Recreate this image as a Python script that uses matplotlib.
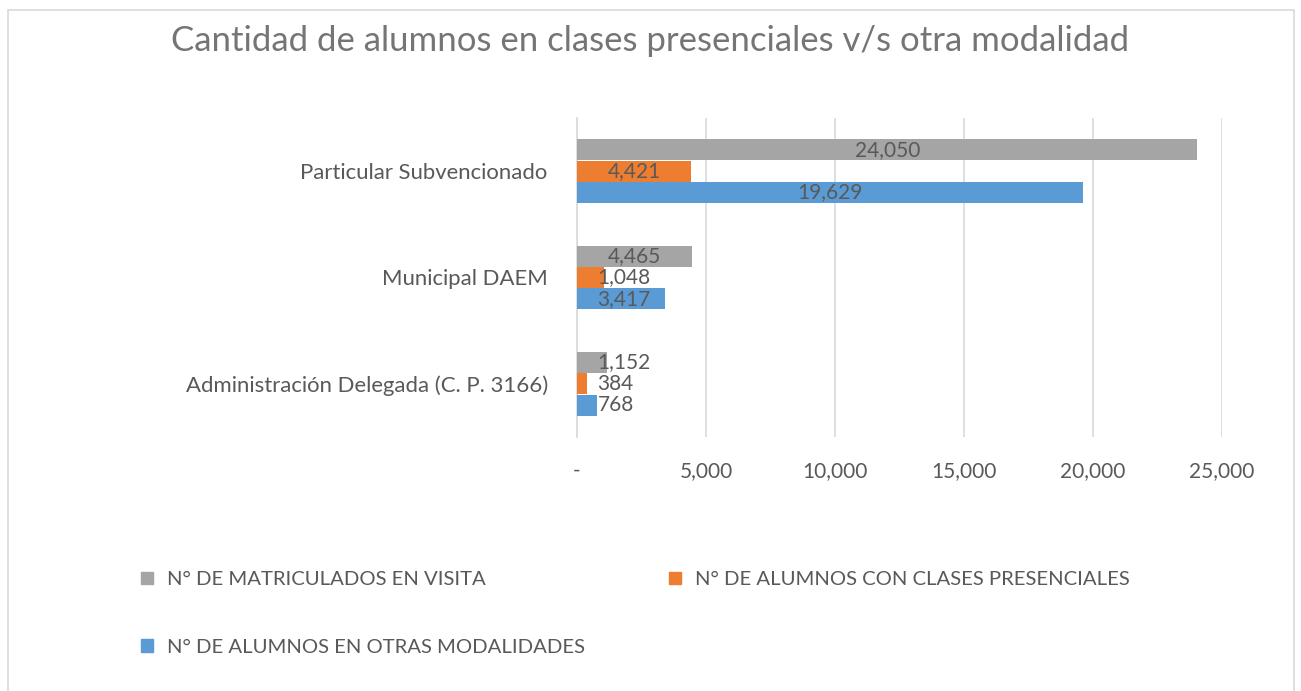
import matplotlib
matplotlib.use("Agg")
import matplotlib.pyplot as plt
from matplotlib.patches import Rectangle, Patch
from matplotlib.ticker import FuncFormatter

plt.rcParams['font.family'] = ['Lato', 'DejaVu Sans']

categories = ["Administración Delegada (C. P. 3166)", "Municipal DAEM", "Particular Subvencionado"]
series_names = ["N° DE MATRICULADOS EN VISITA", "N° DE ALUMNOS CON CLASES PRESENCIALES", "N° DE ALUMNOS EN OTRAS MODALIDADES"]
matriculados = [1152, 4465, 24050]
presenciales = [384, 1048, 4421]
otras = [768, 3417, 19629]
x_ticks = [0, 5000, 10000, 15000, 20000, 25000]
title = "Cantidad de alumnos en clases presenciales v/s otra modalidad"

colors = ["#A5A5A5", "#ED7D31", "#5B9BD5"]
text_color = "#595959"
fs = 15

W, H = 1301, 691
fig = plt.figure(figsize=(W / 100, H / 100), dpi=100)
fig.patch.set_facecolor("white")

# chart border
fig.add_artist(Rectangle((8 / W, -0.05), (1294 - 8) / W, 1.05 - 10 / H,
                         transform=fig.transFigure, fill=False,
                         edgecolor="#D9D9D9", linewidth=1.2))

ax = fig.add_axes([577 / W, 1 - 437 / H, (1222 - 577) / W, (437 - 118) / H])

ypos = list(range(len(categories)))
bh = 0.2
offsets = [bh, 0, -bh]
all_series = [matriculados, presenciales, otras]
for s, vals, off, col in zip(series_names, all_series, offsets, colors):
    ax.barh([y + off for y in ypos], vals, height=bh * 0.98, color=col, label=s, zorder=3)
    for y, v in zip(ypos, vals):
        lab = f"{v:,}"
        if v < 4000:
            ax.text(800, y + off, lab, ha="left", va="center", fontsize=fs,
                    color=text_color, zorder=4)
        else:
            ax.text(v / 2, y + off, lab, ha="center", va="center", fontsize=fs,
                    color=text_color, zorder=4)

ax.set_xlim(0, 25000)
ax.set_ylim(-0.5, 2.5)
ax.set_xticks(x_ticks)
ax.xaxis.set_major_formatter(FuncFormatter(lambda v, p: "-" if v == 0 else f"{int(v):,}"))
ax.set_yticks(ypos)
ax.set_yticklabels(categories)
ax.tick_params(axis="both", length=0, labelsize=fs, colors=text_color)
ax.tick_params(axis="y", labelsize=15.9, pad=21)
ax.tick_params(axis="x", pad=17)
ax.grid(axis="x", color="#D9D9D9", linewidth=1.2, zorder=0)
for sp in ["top", "right", "bottom"]:
    ax.spines[sp].set_visible(False)
ax.spines["left"].set_color("#D9D9D9")
ax.spines["left"].set_linewidth(1.2)

fig.text(650 / W, 1 - 41 / H, title, ha="center", va="center", fontsize=25, color="#757575")

handles = [Patch(color=colors[0]), Patch(color=colors[2]), Patch(color=colors[1])]
labels = [series_names[0], series_names[2], series_names[1]]
leg = fig.legend(handles, labels, ncol=2, loc="upper left",
                 bbox_to_anchor=(133 / W, 1 - 563 / H), frameon=False,
                 fontsize=14.6, handlelength=0.6, handleheight=0.6, handletextpad=0.7,
                 columnspacing=4.1, labelspacing=2.5, borderaxespad=0)
for t in leg.get_texts():
    t.set_color(text_color)

fig.savefig("out.png", dpi=100, facecolor="white")
